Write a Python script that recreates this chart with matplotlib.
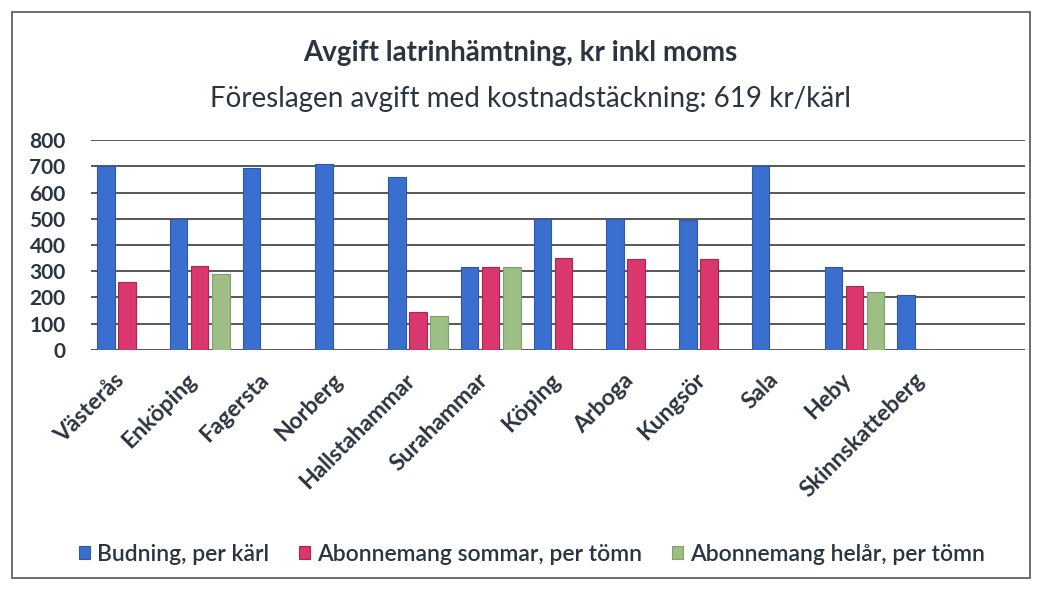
"""Avgift latrinhämtning - grouped bar chart."""

import matplotlib

matplotlib.use("Agg")
import matplotlib.pyplot as plt
import matplotlib.transforms as mtransforms
import numpy as np
from matplotlib.patches import Rectangle

plt.rcParams["font.family"] = ["Lato", "DejaVu Sans"]

kommuner = [
    "Västerås", "Enköping", "Fagersta", "Norberg", "Hallstahammar", "Surahammar",
    "Köping", "Arboga", "Kungsör", "Sala", "Heby", "Skinnskatteberg",
]
budning = [700, 500, 695, 710, 660, 315, 500, 500, 495, 700, 315, 210]
sommar = [260, 320, np.nan, np.nan, 145, 315, 350, 345, 345, np.nan, 245, np.nan]
helar = [np.nan, 290, np.nan, np.nan, 130, 315, np.nan, np.nan, np.nan, np.nan, 220, np.nan]

series = [
    ("Budning, per kärl", budning, "#3b6fcf", "#2b58a8"),
    ("Abonnemang sommar, per tömn", sommar, "#d9376e", "#b02452"),
    ("Abonnemang helår, per tömn", helar, "#9dbf86", "#7fa06a"),
]
text_color = "#2b3440"

fig = plt.figure(figsize=(10.41, 5.94), dpi=100)
ax = fig.add_axes([0.087, 0.411, 0.898, 0.353])

x = np.arange(len(kommuner))
width = 0.24
step = 0.29
for i, (label, vals, color, edge) in enumerate(series):
    ax.bar(x + (i - 1) * step, vals, width, color=color, edgecolor=edge,
           linewidth=0.8, label=label, zorder=3)

ax.set_ylim(0, 800)
ax.set_xlim(-0.5, len(kommuner) + 0.35)
ax.set_yticks(range(0, 801, 100))
ax.tick_params(axis="y", length=0, labelsize=15, pad=18)
for t in ax.get_yticklabels():
    t.set_fontweight("bold")
    t.set_color(text_color)
ax.set_xticks(x)
ax.set_xticklabels(kommuner, rotation=45, ha="right", rotation_mode="anchor",
                   fontsize=16.5, fontweight="bold", color=text_color)
ax.tick_params(axis="x", length=0, pad=14)
# nudge the slanted labels a little to the left, like the original
shift = mtransforms.ScaledTranslation(-10 / 72, 0, fig.dpi_scale_trans)
for t in ax.get_xticklabels():
    t.set_transform(t.get_transform() + shift)
ax.grid(axis="y", color="#4a4a4a", linewidth=1.3, zorder=0)
ax.set_axisbelow(True)
for s in ax.spines.values():
    s.set_visible(False)

fig.text(0.5, 0.897, "Avgift latrinhämtning, kr inkl moms", ha="center",
         fontsize=20, fontweight="bold", color=text_color)
fig.text(0.51, 0.82, "Föreslagen avgift med kostnadstäckning: 619 kr/kärl",
         ha="center", fontsize=20, color=text_color)

leg = fig.legend(loc="center", bbox_to_anchor=(0.511, 0.067), ncol=3, frameon=False,
                 prop={"size": 16.5, "weight": "semibold"}, handlelength=0.5,
                 handleheight=0.5, handletextpad=0.3, columnspacing=1.3)
for t in leg.get_texts():
    t.set_color(text_color)

fig.patches.append(Rectangle((12 / 1041, 1 - 578 / 594), 1018 / 1041, 566 / 594,
                             transform=fig.transFigure, fill=False,
                             edgecolor="#555555", linewidth=1.2))

fig.savefig("out.png", dpi=100)
plt.close(fig)
